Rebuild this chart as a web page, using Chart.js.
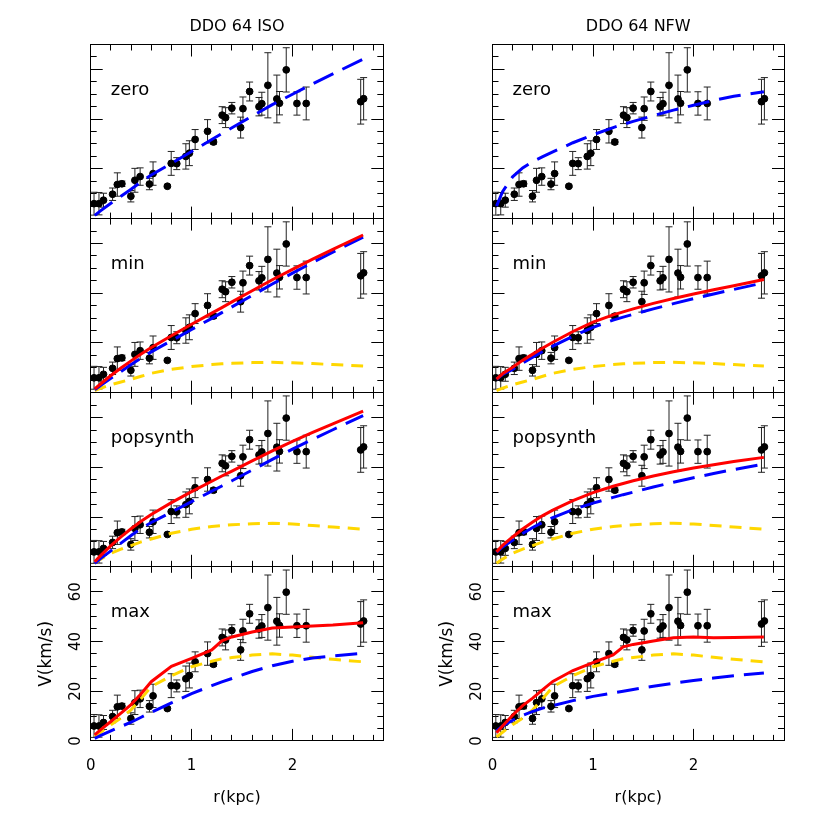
<!DOCTYPE html>
<html>
<head>
<meta charset="utf-8">
<script src="https://cdn.jsdelivr.net/npm/chart.js@4.4.1/dist/chart.umd.min.js"></script>
<style>
html,body{margin:0;padding:0;background:#ffffff;}
#wrap{position:relative;width:830px;height:830px;background:#ffffff;}
#wrap canvas{position:absolute;left:0;top:0;}
</style>
</head>
<body>
<div id="wrap"></div>
<script>
// ---------------- data ----------------
const radius = [0.033, 0.082, 0.127, 0.217, 0.264, 0.309, 0.398, 0.438, 0.490, 0.582, 0.618, 0.760, 0.798, 0.853, 0.943, 0.978, 1.035, 1.158, 1.217, 1.303, 1.337, 1.399, 1.486, 1.509, 1.575, 1.668, 1.696, 1.756, 1.845, 1.871, 1.938, 2.044, 2.136, 2.676, 2.705];
const velocity = [6.0, 6.0, 7.4, 9.8, 13.7, 14.0, 9.0, 15.4, 16.9, 13.9, 18.1, 13.0, 22.2, 22.1, 25.0, 26.3, 31.8, 35.1, 30.8, 41.6, 40.6, 44.4, 36.6, 44.2, 51.1, 45.0, 46.2, 53.6, 48.1, 46.4, 59.8, 46.3, 46.3, 47.0, 48.2];
const velErr = [4.6, 4.5, 2.8, 2.5, 4.7, 1.1, 2.3, 4.8, 3.5, 2.3, 4.7, 0.5, 4.8, 2.4, 5.1, 5.0, 4.0, 4.7, 0.9, 3.4, 4.0, 2.3, 4.2, 4.7, 3.8, 3.7, 4.6, 13.1, 9.6, 4.7, 8.9, 4.7, 6.6, 9.0, 8.5];

// radii at which the model curves are sampled
const curveR = [0.04, 0.1, 0.2, 0.3, 0.4, 0.5, 0.6, 0.8, 1.0, 1.2, 1.3, 1.4, 1.6, 1.8, 2.0, 2.2, 2.4, 2.7];

// zero
const isoZeroHalo = [1.3, 3.2, 6.2, 9.0, 11.8, 14.8, 17.5, 22.2, 27.0, 31.8, 34.2, 36.5, 41.2, 45.8, 50.0, 54.2, 58.2, 64.1];
const nfwZeroHalo = [5.0, 10.8, 16.8, 20.4, 22.9, 24.9, 26.8, 30.5, 33.7, 36.6, 37.9, 39.1, 41.4, 43.6, 45.6, 47.5, 49.2, 51.0];
// min
const diskMin     = [0.8, 1.8, 3.2, 4.3, 5.4, 6.6, 7.8, 9.4, 10.5, 11.3, 11.6, 11.8, 12.1, 12.2, 12.0, 11.7, 11.3, 10.7];
const isoMinHalo  = [1.2, 3.0, 5.8, 8.5, 11.3, 13.9, 16.4, 20.9, 25.4, 29.9, 32.2, 34.5, 39.1, 43.7, 48.1, 52.4, 56.5, 62.5];
const isoMinTotal = [1.5, 3.6, 6.9, 9.9, 12.8, 15.6, 18.2, 22.9, 27.5, 32.0, 34.2, 36.5, 41.0, 45.4, 49.6, 53.7, 57.6, 63.4];
const nfwMinHalo  = [5.4, 7.3, 9.4, 11.9, 14.3, 16.6, 18.7, 22.7, 26.3, 29.2, 30.4, 31.5, 33.7, 35.8, 37.8, 39.7, 41.5, 44.2];
const nfwMinTotal = [5.5, 7.6, 10.2, 13.0, 15.5, 18.0, 20.3, 24.6, 28.4, 31.3, 32.5, 33.7, 35.9, 37.9, 39.7, 41.4, 43.0, 45.5];
// popsynth
const diskPop     = [1.4, 3.1, 5.4, 7.1, 8.5, 10.0, 11.2, 13.5, 15.1, 16.2, 16.6, 16.9, 17.3, 17.5, 17.2, 16.6, 16.0, 15.1];
const isoPopHalo  = [1.4, 3.4, 6.4, 9.5, 12.6, 15.4, 17.8, 22.0, 26.2, 30.4, 32.5, 34.6, 38.9, 43.2, 47.3, 51.3, 55.1, 60.8];
const isoPopTotal = [2.0, 4.6, 8.5, 12.0, 15.3, 18.3, 21.0, 25.8, 30.2, 34.4, 36.5, 38.5, 42.6, 46.6, 50.4, 54.0, 57.5, 62.6];
const nfwPopHalo  = [5.8, 8.0, 10.7, 13.4, 15.8, 17.9, 19.8, 23.0, 25.6, 27.9, 29.0, 30.0, 32.1, 34.0, 35.8, 37.5, 39.1, 41.3];
const nfwPopTotal = [6.0, 8.6, 12.0, 15.2, 18.0, 20.6, 22.8, 26.6, 29.8, 32.4, 33.5, 34.6, 36.5, 38.2, 39.7, 41.0, 42.3, 44.0];
// max
const diskMax     = [1.6, 3.5, 6.5, 9.2, 12.5, 17.0, 21.8, 26.2, 29.8, 32.0, 33.0, 33.5, 34.5, 35.0, 34.5, 33.6, 32.8, 31.8];
const isoMaxHalo  = [1.0, 2.2, 4.0, 5.8, 7.5, 9.5, 11.5, 15.3, 19.0, 22.2, 23.7, 25.1, 27.9, 30.2, 32.0, 33.3, 34.2, 35.2];
const isoMaxTotal = [2.4, 4.5, 7.8, 11.2, 14.6, 19.0, 23.8, 30.0, 33.2, 36.6, 40.2, 41.8, 43.8, 45.4, 45.8, 46.2, 46.6, 47.5];
const nfwMaxHalo  = [4.0, 6.0, 8.3, 10.2, 11.9, 13.2, 14.2, 16.2, 17.9, 19.3, 20.0, 20.7, 22.0, 23.2, 24.3, 25.3, 26.2, 27.3];
const nfwMaxTotal = [3.3, 6.0, 10.3, 14.2, 17.2, 20.6, 23.9, 28.3, 31.5, 34.6, 37.8, 38.8, 40.2, 41.5, 41.8, 41.5, 41.6, 41.8];

// ticks
const xMajorTicks = [0, 1, 2];
const xTickLabels = ['0', '1', '2'];
const xMinorTicks = [0, 0.2, 0.4, 0.6, 0.8, 1.0, 1.2, 1.4, 1.6, 1.8, 2.0, 2.2, 2.4, 2.6, 2.8];
const yMajorTicks = [0, 20, 40, 60];
const yTickLabels = ['0', '20', '40', '60'];
const yMinorTicks = [0, 5, 10, 15, 20, 25, 30, 35, 40, 45, 50, 55, 60, 65, 70];

const rowNames = ['zero', 'min', 'popsynth', 'max'];
const colTitles = ['DDO 64 ISO', 'DDO 64 NFW'];
const xTitle = 'r(kpc)';
const yTitle = 'V(km/s)';

// ---------------- layout / style ----------------
const CANVAS = 830;
const X_MIN = 0, X_MAX = 2.9, Y_MIN = 0, Y_MAX = 70;
const COL_LEFT = [90.7, 492.5];
const COL_RIGHT = [383.3, 784.0];
const ROW_EDGES = [44.5, 218.6, 392.7, 566.8, 740.9];
const FONT = 'DejaVu Sans';
const TICK_FONT = {family: FONT, size: 15};
const TITLE_FONT = {family: FONT, size: 16};
const YTITLE_FONT = {family: FONT, size: 17};
const PANEL_FONT = {family: FONT, size: 18};
const MAJOR_LEN = 12, MINOR_LEN = 6;
const RED = '#ff0000', BLUE = '#0000ff', GOLD = '#ffd700', BAR = '#222222';

const models = [
  {halo: [isoZeroHalo, nfwZeroHalo], total: [null, null], disk: null},
  {halo: [isoMinHalo, nfwMinHalo], total: [isoMinTotal, nfwMinTotal], disk: diskMin},
  {halo: [isoPopHalo, nfwPopHalo], total: [isoPopTotal, nfwPopTotal], disk: diskPop},
  {halo: [isoMaxHalo, nfwMaxHalo], total: [isoMaxTotal, nfwMaxTotal], disk: diskMax}
];

function mkAxis(o) {
  const horiz = (o.pos === 'top' || o.pos === 'bottom');
  return {
    type: 'linear',
    axis: horiz ? 'x' : 'y',
    position: o.pos,
    bounds: 'data',
    min: horiz ? X_MIN : Y_MIN,
    max: horiz ? X_MAX : Y_MAX,
    weight: o.weight,
    afterBuildTicks: s => { s.ticks = o.ticks.map(v => ({value: v})); },
    afterFit: s => { if (horiz) { s.height = o.size; } else { s.width = o.size; } },
    ticks: {
      display: !!o.labels,
      autoSkip: false,
      padding: o.padding || 0,
      color: '#000000',
      font: TICK_FONT,
      minRotation: o.rotate || 0,
      maxRotation: o.rotate || 0,
      crossAlign: horiz ? 'near' : 'center',
      callback: (v, i) => (o.labels ? o.labels[i] : '')
    },
    grid: {
      display: true,
      drawOnChartArea: false,
      drawTicks: true,
      tickLength: -o.len,
      tickColor: '#000000',
      tickWidth: 1
    },
    border: {display: !!o.border, color: '#000000', width: 1},
    title: o.title || {display: false}
  };
}

const panelLabelPlugin = {
  id: 'panelLabel',
  afterDatasetsDraw(chart, args, opts) {
    const {ctx, chartArea} = chart;
    ctx.save();
    ctx.font = PANEL_FONT.size + 'px "' + PANEL_FONT.family + '"';
    ctx.fillStyle = '#000000';
    ctx.textAlign = 'left';
    ctx.textBaseline = 'middle';
    ctx.fillText(opts.text, chartArea.left + 20, chartArea.top + 45.5);
    ctx.restore();
  }
};

function pts(arr) { return curveR.map((r, i) => ({x: r, y: arr[i]})); }

function buildPanel(row, col) {
  const canvas = document.createElement('canvas');
  canvas.width = CANVAS; canvas.height = CANVAS;
  document.getElementById('wrap').appendChild(canvas);

  const leftSize = COL_LEFT[col];
  const rightSize = CANVAS - COL_RIGHT[col];
  const topSize = ROW_EDGES[row];
  const bottomSize = CANVAS - ROW_EDGES[row + 1];
  const isBottom = row === 3;
  const isTop = row === 0;
  const lh = 1.2;

  const scales = {
    x: mkAxis({pos: 'bottom', ticks: xMajorTicks, labels: isBottom ? xTickLabels : null, len: MAJOR_LEN, weight: 1, size: bottomSize, border: true,
      padding: 25 + MAJOR_LEN - TICK_FONT.size * lh / 2,
      title: isBottom ? {display: true, text: xTitle, color: '#000000', font: TITLE_FONT, padding: {top: 0, bottom: (CANVAS - 798) - TITLE_FONT.size * lh / 2}} : null}),
    xMinor: mkAxis({pos: 'bottom', ticks: xMinorTicks, len: MINOR_LEN, weight: 0, size: 0}),
    xTop: mkAxis({pos: 'top', ticks: xMajorTicks, len: MAJOR_LEN, weight: 1, size: topSize, border: true,
      title: isTop ? {display: true, text: colTitles[col], color: '#000000', font: TITLE_FONT, padding: {top: 26.5 - TITLE_FONT.size * lh / 2, bottom: 0}} : null}),
    xTopMinor: mkAxis({pos: 'top', ticks: xMinorTicks, len: MINOR_LEN, weight: 0, size: 0}),
    y: mkAxis({pos: 'left', ticks: yMajorTicks, labels: isBottom ? yTickLabels : null, len: MAJOR_LEN, weight: 1, size: leftSize, border: true,
      rotate: 90, padding: 15 + MAJOR_LEN - 9.5,
      title: isBottom ? {display: true, text: yTitle, color: '#000000', font: YTITLE_FONT, padding: {top: (COL_LEFT[col] - 44.5) - YTITLE_FONT.size * lh / 2, bottom: 0}} : null}),
    yMinor: mkAxis({pos: 'left', ticks: yMinorTicks, len: MINOR_LEN, weight: 0, size: 0}),
    yRight: mkAxis({pos: 'right', ticks: yMajorTicks, len: MAJOR_LEN, weight: 1, size: rightSize, border: true}),
    yRightMinor: mkAxis({pos: 'right', ticks: yMinorTicks, len: MINOR_LEN, weight: 0, size: 0})
  };

  const m = models[row];
  const datasets = [];
  if (m.total[col]) {
    datasets.push({label: 'total', data: pts(m.total[col]), showLine: true, borderColor: RED, borderWidth: 3, pointRadius: 0, tension: 0, order: 0});
  }
  datasets.push({label: 'halo', data: pts(m.halo[col]), showLine: true, borderColor: BLUE, borderWidth: 3, borderDash: [22, 10], pointRadius: 0, tension: 0, order: 1});
  if (m.disk) {
    datasets.push({label: 'disk', data: pts(m.disk), showLine: true, borderColor: GOLD, borderWidth: 3, borderDash: [12, 8], pointRadius: 0, tension: 0, order: 2});
  }
  datasets.push({label: 'data', data: radius.map((r, i) => ({x: r, y: velocity[i]})), showLine: false,
    pointRadius: 3.4, pointBackgroundColor: '#000000', pointBorderColor: '#000000', pointBorderWidth: 1, order: 3});
  const caps = [];
  const bars = [];
  radius.forEach((r, i) => {
    caps.push({x: r, y: velocity[i] - velErr[i]});
    caps.push({x: r, y: velocity[i] + velErr[i]});
    bars.push({x: r, y: velocity[i] - velErr[i]});
    bars.push({x: r, y: velocity[i] + velErr[i]});
    bars.push({x: r, y: null});
  });
  datasets.push({label: 'caps', data: caps, showLine: false, pointStyle: 'line', pointRadius: 3.5,
    pointBorderColor: BAR, pointBorderWidth: 1, order: 4});
  datasets.push({label: 'bars', data: bars, showLine: true, spanGaps: false, borderColor: BAR, borderWidth: 1, pointRadius: 0, order: 5});

  new Chart(canvas, {
    type: 'scatter',
    data: {datasets},
    options: {
      responsive: false,
      animation: false,
      devicePixelRatio: 1,
      events: [],
      layout: {padding: 0},
      scales,
      plugins: {
        legend: {display: false},
        tooltip: {enabled: false},
        panelLabel: {text: rowNames[row]}
      }
    },
    plugins: [panelLabelPlugin]
  });
}

for (let row = 0; row < 4; row++) {
  for (let col = 0; col < 2; col++) {
    buildPanel(row, col);
  }
}
</script>
</body>
</html>
